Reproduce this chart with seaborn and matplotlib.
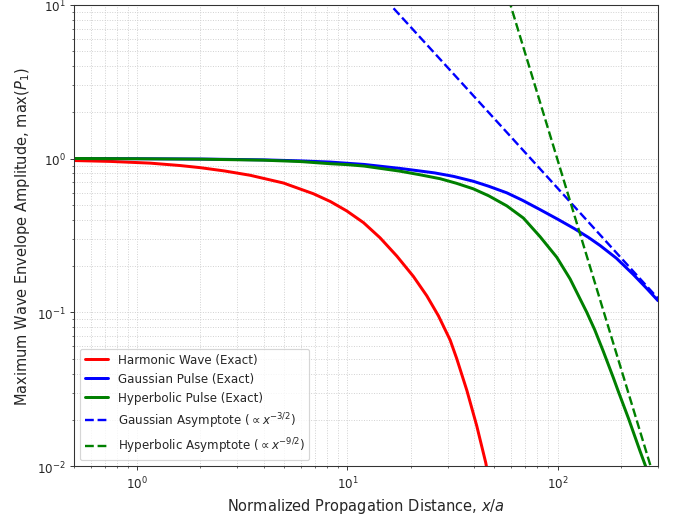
import matplotlib
matplotlib.use("Agg")
import matplotlib.pyplot as plt
import seaborn as sns
import pandas as pd

# ---- data ----
harmonic_x = [0.5, 0.75, 1.153, 1.6, 1.994, 2.6, 3.445, 4.96, 6.89, 8.3, 9.93, 11.92, 14.30, 17.18,
              20.6, 23.85, 27.08, 30.8, 33.1, 37.0, 41.2, 45.5, 47.0]
harmonic_y = [0.970, 0.957, 0.933, 0.900, 0.872, 0.830, 0.778, 0.693, 0.590, 0.525, 0.456, 0.383, 0.305,
              0.232, 0.171, 0.128, 0.0950, 0.0660, 0.0500, 0.0310, 0.0183, 0.0105, 0.0082]

gaussian_x = [0.5, 1.0, 2.0, 4.0, 6.0, 8.27, 12.0, 17.8, 26.0, 32.0, 39.7, 47.0, 57.3, 68.0, 82.5,
              100.0, 120.0, 140.0, 159.0, 190.0, 229.0, 265.0, 300.0]
gaussian_y = [1.0, 0.997, 0.992, 0.980, 0.965, 0.948, 0.915, 0.862, 0.806, 0.765, 0.711, 0.660, 0.598,
              0.535, 0.465, 0.403, 0.350, 0.307, 0.272, 0.225, 0.176, 0.143, 0.119]

hyperbolic_x = [0.5, 1.0, 2.0, 4.0, 6.0, 8.27, 10.0, 12.0, 17.8, 22.0, 27.6, 33.0, 39.7, 47.0, 57.3,
                68.7, 82.5, 99.0, 114.5, 137.5, 150.0, 165.0, 184.0, 194.4, 216.9, 246.5, 260.4, 280.0]
hyperbolic_y = [1.0, 0.996, 0.990, 0.975, 0.955, 0.925, 0.912, 0.893, 0.827, 0.785, 0.739, 0.690, 0.635,
                0.572, 0.492, 0.410, 0.310, 0.228, 0.165, 0.100, 0.077, 0.0555, 0.0375, 0.0305, 0.0205,
                0.0125, 0.0102, 0.0077]

gauss_asym_x = [15.0, 30.0, 60.0, 120.0, 300.0]
gauss_asym_y = [11.0, 3.90, 1.38, 0.487, 0.123]

hyper_asym_x = [58.0, 100.0, 150.0, 200.0, 280.0]
hyper_asym_y = [11.3, 0.974, 0.157, 0.0431, 0.00947]

labels = ["Harmonic Wave (Exact)", "Gaussian Pulse (Exact)", "Hyperbolic Pulse (Exact)",
          r"Gaussian Asymptote ($\propto x^{-3/2}$)", r"Hyperbolic Asymptote ($\propto x^{-9/2}$)"]
xlim = (0.5, 300)
ylim = (1e-2, 1e1)

sns.set_style("ticks")
plt.rcParams["font.family"] = ["DejaVu Sans"]
plt.rcParams["mathtext.fontset"] = "dejavusans"

fig, ax = plt.subplots(figsize=(8.0, 6.023), dpi=85.5)
fig.subplots_adjust(left=0.108, right=0.962, top=0.989, bottom=0.093)
ax.set_xscale("log")
ax.set_yscale("log")

series = [
    (harmonic_x, harmonic_y, "red", "-", 2.5),
    (gaussian_x, gaussian_y, "blue", "-", 2.5),
    (hyperbolic_x, hyperbolic_y, "green", "-", 2.5),
    (gauss_asym_x, gauss_asym_y, "blue", "--", 2.0),
    (hyper_asym_x, hyper_asym_y, "green", "--", 2.0),
]
for (xs, ys, c, ls, lw), lab in zip(series, labels):
    df = pd.DataFrame({"x": xs, "y": ys})
    sns.lineplot(data=df, x="x", y="y", ax=ax, color=c, linestyle=ls, linewidth=lw,
                 label=lab, estimator=None, sort=False)

ax.set_xlim(*xlim)
ax.set_ylim(*ylim)
ax.grid(True, which="both", linestyle=":", linewidth=0.8, color="#d0d0d0")
ax.set_xlabel("Normalized Propagation Distance, $x/a$", fontsize=12.3)
ax.set_ylabel(r"Maximum Wave Envelope Amplitude, max($P_1$)", fontsize=12.3)
ax.tick_params(axis="both", which="major", labelsize=10, direction="out", length=3.5, width=0.8,
               color="#333333")
ax.tick_params(axis="both", which="minor", direction="out", length=2, width=0.6, color="#333333")
for s in ax.spines.values():
    s.set_color("#333333")
    s.set_linewidth(0.9)
leg = ax.legend(loc="lower left", fontsize=10, frameon=True, fancybox=True)
leg.get_frame().set_edgecolor("#cccccc")

fig.savefig("out.png", dpi=85.5)
